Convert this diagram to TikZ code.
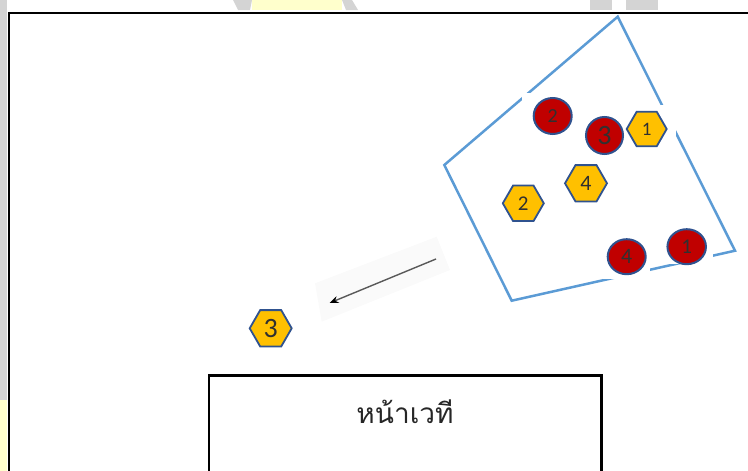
\documentclass[tikz,border=0pt]{standalone}
\usepackage{fontspec}
\setmainfont{Carlito}
\newfontfamily\thaifont[Script=Thai]{Loma}
\usetikzlibrary{shapes.geometric,arrows.meta}
\definecolor{sqblue}{HTML}{5B9BD5}
\definecolor{tokborder}{HTML}{2F528F}
\definecolor{hexfill}{HTML}{FFC000}
\definecolor{redfill}{HTML}{C00000}
\definecolor{numtext}{HTML}{303030}
\definecolor{wmgray}{HTML}{D4D4D4}
\definecolor{wmyellow}{HTML}{FFFFCC}
\definecolor{shadowgray}{HTML}{FAFAFA}
\newcommand{\numsize}[1]{\fontsize{#1}{#1}\selectfont}
\begin{document}
\begin{tikzpicture}[x=1pt,y=-1pt,
  hextok/.style={regular polygon, regular polygon sides=6, minimum size=41pt,
    inner sep=0pt, fill=hexfill, draw=tokborder, line width=1.8pt,
    font=\numsize{21}, text=numtext},
  redtok/.style={ellipse, minimum width=38pt, minimum height=35pt, inner sep=0pt,
    fill=redfill, draw=tokborder, line width=2pt,
    font=\numsize{21}, text=numtext},
  gapbox/.style={fill=white},
  wm/.style={fill=wmgray},
  wmy/.style={fill=wmyellow},
  frame/.style={draw=black, line width=2pt},
  stage/.style={draw=black, line width=2.5pt},
  tray/.style={draw=sqblue, line width=2.5pt, line join=miter},
]
\useasboundingbox (0,0) rectangle (748,471);
% faint watermark remains outside the frame
\fill[wm] (0,0) rectangle (7,400);
\fill[wmy] (0,400) rectangle (7,471);
\fill[wm] (233,0) -- (252,0) -- (250,10) -- (238,10) -- cycle;
\fill[wmy] (252,0) rectangle (342,10);
\fill[wm] (342,0) -- (352,0) -- (358,10) -- (346,10) -- cycle;
\fill[wm] (590,0) rectangle (612,10);
\fill[wm] (626,0) rectangle (658,10);
% outer frame
\draw[frame] (748,12.5) -- (9,12.5) -- (9,472);
% stage box
\draw[stage] (209,473) -- (209,375.5) -- (601.5,375.5) -- (601.5,473);
\node[font=\thaifont\numsize{28}, text=black!85] (stagelabel) at (405,412) {หน้าเวที};
% tilted square
\draw[tray] (617.7,16.7) -- (444.3,165) -- (511.7,300.7) -- (735,250.7) -- cycle;
% arrow with its faint shadow
\fill[shadowgray] (315,283.3) -- (436.7,236.7) -- (450,270) -- (321.7,321.7) -- cycle;
\coordinate (arrS) at (436,259);
\coordinate (arrE) at (329.5,303);
\draw[gray!70!black, line width=1.4pt, -{Stealth[length=9pt,width=7pt,color=black]}] (arrS) -- (arrE);
% tokens
\fill[gapbox] (522,92.5) rectangle (576,137);
\node[redtok, minimum width=38pt, minimum height=36pt, font=\numsize{20}] (c2) at (552.7,116) {2};
\node[redtok, minimum width=37pt, minimum height=37pt, font=\numsize{28}] (c3) at (604.5,135.5) {3};
\fill[gapbox] (625,105) rectangle (675.5,152);
\node[hextok, minimum size=40pt, font=\numsize{19}] (h1) at (646.7,129) {1};
\node[hextok, minimum size=42pt, font=\numsize{22}] (h4) at (586,183.3) {4};
\node[hextok, font=\numsize{21}] (h2) at (523.3,203.3) {2};
\fill[gapbox] (603,234) rectangle (650,279);
\node[redtok, font=\numsize{22}] (c4) at (626.7,256.7) {4};
\fill[gapbox] (662,224) rectangle (713,264);
\node[redtok, minimum width=38.5pt, minimum height=35pt, font=\numsize{21}] (c1) at (686.7,246.7) {1};
\node[hextok, minimum size=42pt, font=\numsize{28}] (h3) at (270.7,328.3) {3};
\end{tikzpicture}
\end{document}
